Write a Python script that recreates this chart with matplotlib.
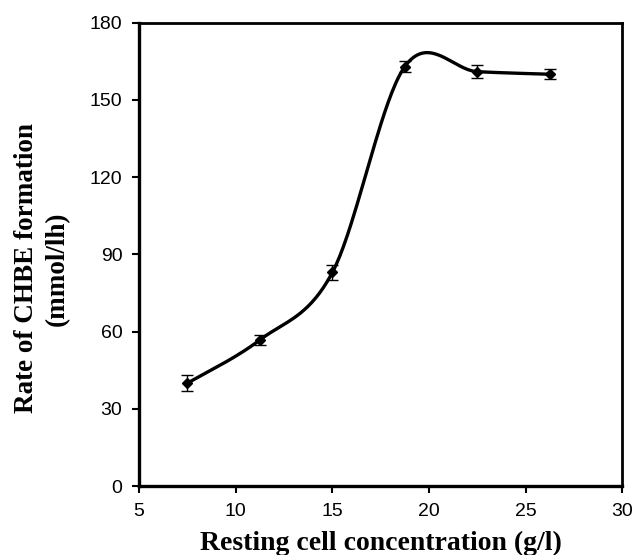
import numpy as np
import matplotlib
matplotlib.use("Agg")
import matplotlib.pyplot as plt

# data
cell_conc = [7.5, 11.25, 15.0, 18.75, 22.5, 26.25]
rate = [40.0, 56.8, 83.0, 163.0, 161.0, 160.0]
rate_err = [3.0, 2.0, 3.0, 2.0, 2.5, 2.0]


def smooth_line(xs, ys, n=40):
    # Excel-style smoothed line: Catmull-Rom bezier segments
    xs = np.asarray(xs, float)
    ys = np.asarray(ys, float)
    pts = np.column_stack([xs, ys])
    out = []
    for i in range(len(pts) - 1):
        p0 = pts[i - 1] if i > 0 else pts[i]
        p1 = pts[i]
        p2 = pts[i + 1]
        p3 = pts[i + 2] if i + 2 < len(pts) else pts[i + 1]
        c1 = p1 + (p2 - p0) / 6.0
        c2 = p2 - (p3 - p1) / 6.0
        t = np.linspace(0, 1, n)[:, None]
        seg = ((1 - t) ** 3) * p1 + 3 * ((1 - t) ** 2) * t * c1 \
            + 3 * (1 - t) * t ** 2 * c2 + t ** 3 * p2
        out.append(seg)
    curve = np.vstack(out)
    return curve[:, 0], curve[:, 1]


fig = plt.figure(figsize=(6.35, 5.55), dpi=100)
ax = fig.add_axes([0.219, 0.124, 0.761, 0.835])

sx, sy = smooth_line(cell_conc, rate)
ax.plot(sx, sy, color='black', lw=2.4, solid_capstyle='round')
ax.errorbar(cell_conc, rate, yerr=rate_err, fmt='D', color='black',
            markersize=5, ecolor='black', elinewidth=1.0, capsize=4, capthick=1.0)

ax.set_xlim(5, 30)
ax.set_ylim(0, 180)
ax.set_xticks([5, 10, 15, 20, 25, 30])
ax.set_yticks([0, 30, 60, 90, 120, 150, 180])

for side in ['left', 'bottom']:
    ax.spines[side].set_linewidth(2.4)
for side in ['top', 'right']:
    ax.spines[side].set_linewidth(2.0)

ax.tick_params(direction='out', length=5, width=1.5, labelsize=14, pad=7)
for lab in ax.get_xticklabels() + ax.get_yticklabels():
    lab.set_family('Liberation Sans')

ax.set_xlabel('Resting cell concentration (g/l)', family='Liberation Serif',
              fontweight='bold', fontsize=20, labelpad=8)
ax.set_ylabel('Rate of CHBE formation\n(mmol/lh)', family='Liberation Serif',
              fontweight='bold', fontsize=19.5, linespacing=1.3)
ax.yaxis.set_label_coords(-0.143, 0.47)

fig.savefig('out.png', dpi=100)
